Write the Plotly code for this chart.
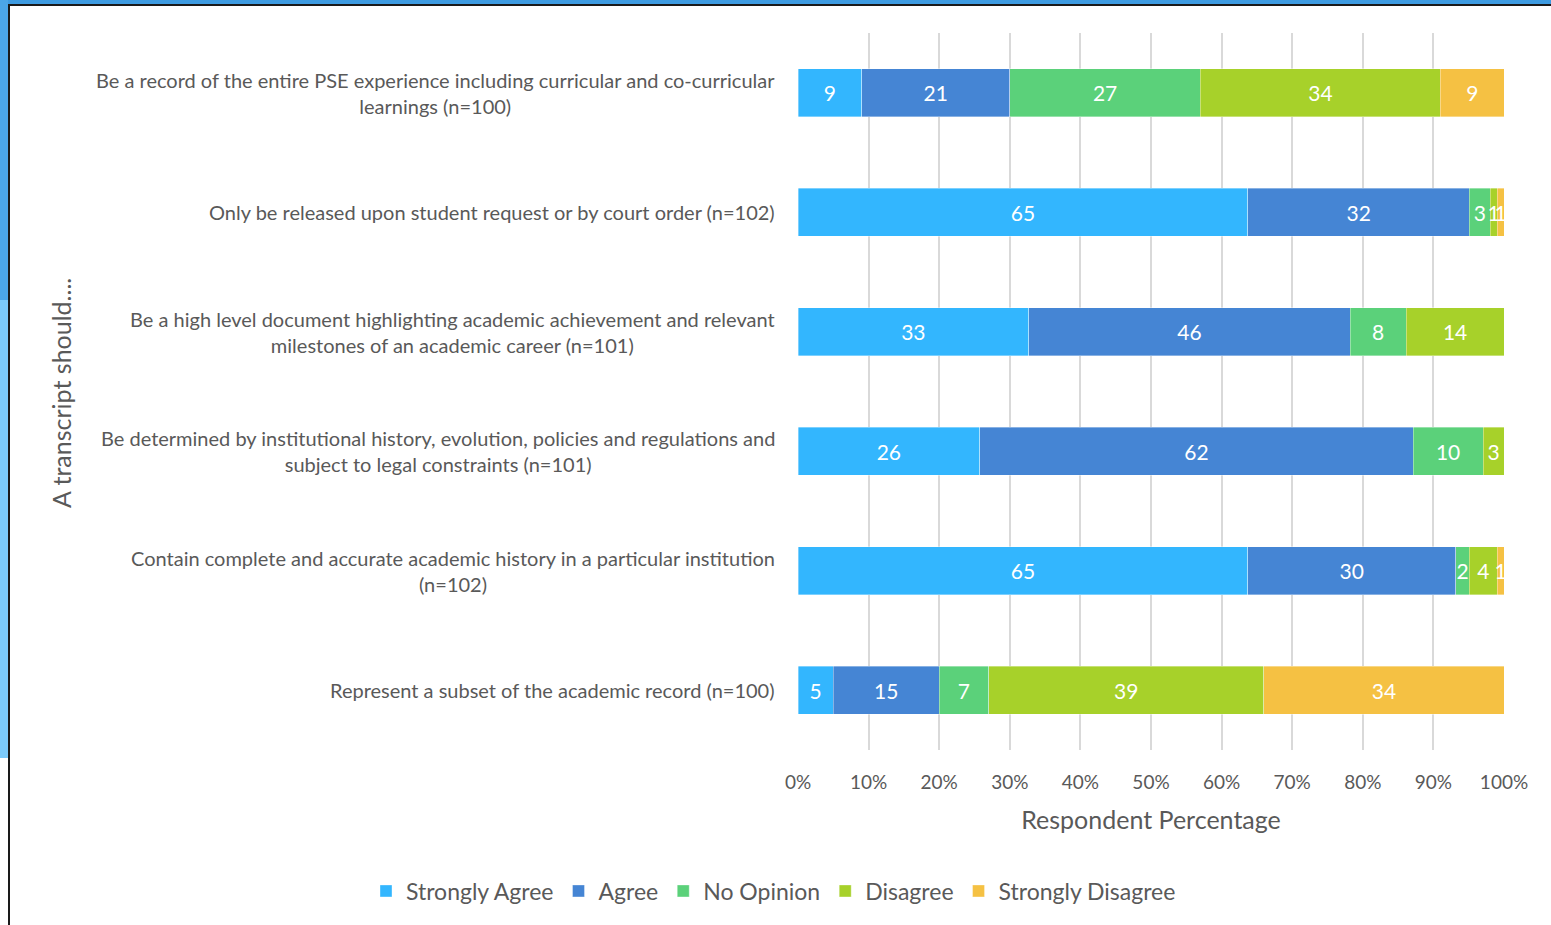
import plotly.graph_objects as go

# ── Data ──────────────────────────────────────────────────────────────────────
statements = [
    "Be a record of the entire PSE experience including curricular and co-curricular<br>learnings (n=100)",
    "Only be released upon student request or by court order (n=102)",
    "Be a high level document highlighting academic achievement and relevant<br>milestones of an academic career (n=101)",
    "Be determined by institutional history, evolution, policies and regulations and<br>subject to legal constraints (n=101)",
    "Contain complete and accurate academic history in a particular institution<br>(n=102)",
    "Represent a subset of the academic record (n=100)",
]
responses = ["Strongly Agree", "Agree", "No Opinion", "Disagree", "Strongly Disagree"]

strongly_agree    = [9, 65, 33, 26, 65, 5]
agree             = [21, 32, 46, 62, 30, 15]
no_opinion        = [27, 3, 8, 10, 2, 7]
disagree          = [34, 1, 14, 3, 4, 39]
strongly_disagree = [9, 1, 0, 0, 1, 34]

x_ticks = list(range(0, 101, 10))
x_tick_labels = [f"{v}%" for v in x_ticks]

# ── Style ─────────────────────────────────────────────────────────────────────
COLORS = ["#33B6FE", "#4585D4", "#5BD17A", "#A7D12A", "#F5C143"]
FONT = "Lato, 'Open Sans', sans-serif"
GREY = "#595959"

W, H = 1551, 925
L, R, T, B = 798, 47, 33, 175
pw, ph = W - L - R, H - T - B


def px_x(p):
    return (p - L) / pw


def px_y(p):
    return (H - B - p) / ph


fig = go.Figure()
for name, vals, col in zip(responses,
                           [strongly_agree, agree, no_opinion, disagree, strongly_disagree],
                           COLORS):
    fig.add_trace(go.Bar(
        name=name, y=statements, x=vals, orientation="h",
        marker=dict(color=col, line=dict(color="rgba(255,255,255,0.6)", width=0.6)),
        text=[str(v) if v else "" for v in vals],
        textposition="inside", insidetextanchor="middle",
        textangle=0, constraintext="none",
        textfont=dict(family=FONT, size=21, color="white"),
        hovertemplate="%{y}: %{text}<extra>" + name + "</extra>",
    ))

# category labels, centred like the original wrapped labels
for s in statements:
    fig.add_annotation(
        x=0, xref="paper", y=s, yref="y", xanchor="right", xshift=-21,
        text=s, align="center", showarrow=False,
        font=dict(family=FONT, size=20, color=GREY),
    )

fig.add_annotation(
    x=px_x(61), y=px_y(393), xref="paper", yref="paper",
    xanchor="center", yanchor="middle",
    text="A transcript should....", textangle=-90, showarrow=False,
    font=dict(family=FONT, size=25, color=GREY),
)

# window frame of the screenshot
frame = [
    dict(x0=0, x1=W, y0=0, y1=4, color="#3D9BE1"),
    dict(x0=0, x1=8, y0=0, y1=300, color="#4BA6E8"),
    dict(x0=0, x1=8, y0=300, y1=758, color="#7CCAFA"),
    dict(x0=8, x1=W, y0=4, y1=6, color="#1A1A1A"),
    dict(x0=8, x1=10, y0=4, y1=H, color="#1A1A1A"),
]
for f in frame:
    fig.add_shape(type="rect", xref="paper", yref="paper",
                  x0=px_x(f["x0"]), x1=px_x(f["x1"]),
                  y0=px_y(f["y1"]), y1=px_y(f["y0"]),
                  fillcolor=f["color"], line=dict(width=0), layer="above")

fig.update_layout(
    barmode="stack", barnorm="percent", bargap=0.6,
    width=W, height=H,
    margin=dict(l=L, r=R, t=T, b=B, pad=0, autoexpand=False),
    paper_bgcolor="white", plot_bgcolor="white",
    font=dict(family=FONT, color=GREY),
    xaxis=dict(
        range=[0, 100], tickmode="array", tickvals=x_ticks, ticktext=x_tick_labels,
        showgrid=True, gridcolor="#D9D9D9", gridwidth=1.5,
        zeroline=False, showline=False,
        ticks="outside", ticklen=15, tickcolor="rgba(0,0,0,0)",
        tickfont=dict(family=FONT, size=19, color=GREY),
        title=dict(text="Respondent Percentage", standoff=19,
                   font=dict(family=FONT, size=25, color=GREY)),
        fixedrange=True,
    ),
    yaxis=dict(
        categoryorder="array", categoryarray=statements,
        autorange="reversed", showticklabels=False,
        showgrid=False, zeroline=False, showline=False, fixedrange=True,
    ),
    legend=dict(
        orientation="h", x=px_x(366), xanchor="left",
        y=px_y(891), yanchor="middle",
        font=dict(family=FONT, size=23, color=GREY),
        traceorder="normal", itemwidth=30,
    ),
    showlegend=True,
)

fig.write_html("out.html", config={"displayModeBar": False},
               post_script="document.body.style.margin='0px';")
